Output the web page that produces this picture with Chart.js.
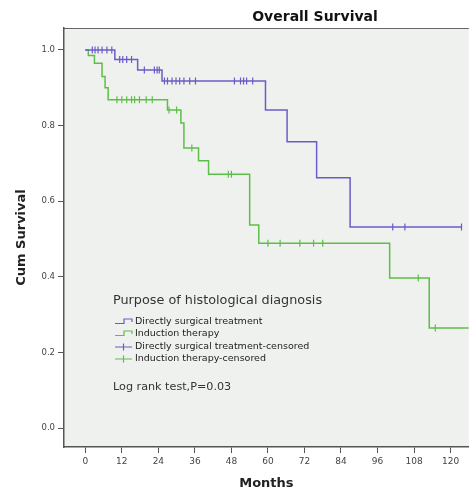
<!DOCTYPE html>
<html><head><meta charset="utf-8">
<script src="https://cdn.jsdelivr.net/npm/chart.js@4.4.1/dist/chart.umd.min.js"></script>
<style>html,body{margin:0;padding:0;background:#fff;overflow:hidden}canvas{display:block}</style>
</head><body>
<canvas id="c" width="474" height="497"></canvas>
<script>
// ---- data ----
const chartTitle = "Overall Survival";
const xTitle = "Months";
const yTitle = "Cum Survival";
const xTicks = [0, 12, 24, 36, 48, 60, 72, 84, 96, 108, 120];
const yTicks = [0.0, 0.2, 0.4, 0.6, 0.8, 1.0];

const surgTime = [0, 9.7, 17.2, 25.2, 59.2, 66.3, 76, 87, 123.6];
const surgSurv = [1, 0.975, 0.947, 0.918, 0.841, 0.757, 0.662, 0.532, 0.532];

const indTime = [0, 1, 3, 5.5, 6.5, 7.5, 27, 31.4, 32.4, 37.2, 40.5, 54, 57, 100, 113, 126];
const indSurv = [1, 0.985, 0.965, 0.93, 0.9, 0.868, 0.841, 0.807, 0.741, 0.707, 0.671, 0.537, 0.489, 0.397, 0.265, 0.265];

const surgCensTime = [2.3, 3.2, 4.2, 5.5, 7.1, 8.7, 11.3, 12.3, 13.6, 15.2, 19.4, 22.7, 23.6, 24.3,
  26, 27, 28.5, 29.8, 31, 32.4, 34.3, 36.2, 49, 51, 52, 53, 55, 101, 105, 123.6];
const surgCensSurv = [1, 1, 1, 1, 1, 1, 0.975, 0.975, 0.975, 0.975, 0.947, 0.947, 0.947, 0.947,
  0.918, 0.918, 0.918, 0.918, 0.918, 0.918, 0.918, 0.918, 0.918, 0.918, 0.918, 0.918, 0.918, 0.532, 0.532, 0.532];

const indCensTime = [10.4, 12, 13.6, 15.2, 16.2, 17.8, 20, 22, 27.5, 30, 35, 47, 48, 60, 64, 70.5, 75, 78, 109.4, 115];
const indCensSurv = [0.868, 0.868, 0.868, 0.868, 0.868, 0.868, 0.868, 0.868, 0.841, 0.841, 0.741, 0.671, 0.671,
  0.489, 0.489, 0.489, 0.489, 0.489, 0.397, 0.265];

const legendTitle = "Purpose of histological diagnosis";
const legendLabels = ["Directly surgical treatment", "Induction therapy",
  "Directly surgical treatment-censored", "Induction therapy-censored"];
const testLabel = "Log rank test,P=0.03";

// ---- styles ----
const PURPLE = '#6a5cc6';
const GREEN = '#5dbf47';
const FONT = "'DejaVu Sans', sans-serif";

const pts = (xs, ys) => xs.map((x, i) => ({x, y: ys[i]}));

const bgPlugin = {
  id: 'bg',
  beforeDraw(chart) {
    const {ctx, chartArea: a} = chart;
    ctx.save();
    ctx.fillStyle = '#eff1ef';
    ctx.fillRect(a.left, a.top, a.right - a.left, a.bottom - a.top);
    ctx.strokeStyle = '#666';
    ctx.lineWidth = 1;
    ctx.beginPath();
    ctx.moveTo(a.left, a.top + 0.5);
    ctx.lineTo(a.right, a.top + 0.5);
    ctx.stroke();
    ctx.restore();
  }
};

const textPlugin = {
  id: 'texts',
  afterDraw(chart) {
    const {ctx} = chart;
    ctx.save();
    // chart title
    ctx.fillStyle = '#111';
    ctx.font = "bold 14px " + FONT;
    ctx.textAlign = 'center';
    ctx.textBaseline = 'middle';
    ctx.fillText(chartTitle, 315, 17);
    // legend
    ctx.textAlign = 'left';
    ctx.fillStyle = '#333';
    ctx.font = "12.8px " + FONT;
    ctx.fillText(legendTitle, 113, 301);
    const ys = [322, 334, 347, 359];
    const cols = [PURPLE, GREEN, PURPLE, GREEN];
    ctx.font = "9.5px " + FONT;
    ys.forEach((y, i) => {
      ctx.strokeStyle = cols[i];
      ctx.lineWidth = 1.2;
      ctx.beginPath();
      if (i < 2) {
        ctx.moveTo(115, y + 1.5); ctx.lineTo(124, y + 1.5);
        ctx.lineTo(124, y - 3); ctx.lineTo(132, y - 3); ctx.lineTo(132, y);
      } else {
        ctx.moveTo(115, y); ctx.lineTo(132, y);
        ctx.moveTo(123.5, y - 3.5); ctx.lineTo(123.5, y + 3.5);
      }
      ctx.stroke();
      ctx.fillStyle = '#222';
      ctx.fillText(legendLabels[i], 135, y);
    });
    ctx.font = "11.2px " + FONT;
    ctx.fillStyle = '#333';
    ctx.fillText(testLabel, 113, 387);
    ctx.restore();
  }
};

new Chart(document.getElementById('c'), {
  type: 'line',
  data: {
    datasets: [
      {data: pts(surgTime, surgSurv), stepped: 'before', borderColor: PURPLE, borderWidth: 1.5, pointRadius: 0, fill: false},
      {data: pts(indTime, indSurv), stepped: 'before', borderColor: GREEN, borderWidth: 1.5, pointRadius: 0, fill: false},
      {data: pts(surgCensTime, surgCensSurv), showLine: false, pointStyle: 'line', rotation: 90, pointRadius: 3.5,
        pointBorderColor: PURPLE, pointBorderWidth: 1.2, borderColor: PURPLE},
      {data: pts(indCensTime, indCensSurv), showLine: false, pointStyle: 'line', rotation: 90, pointRadius: 3.5,
        pointBorderColor: GREEN, pointBorderWidth: 1.2, borderColor: GREEN}
    ]
  },
  options: {
    responsive: false,
    animation: false,
    devicePixelRatio: 1,
    layout: {padding: {left: 8, top: 28, right: 0, bottom: 0}},
    plugins: {legend: {display: false}, tooltip: {enabled: false}, title: {display: false}},
    scales: {
      x: {
        type: 'linear', min: -7, max: 126,
        afterBuildTicks: s => { s.ticks = xTicks.map(v => ({value: v})); },
        afterFit: s => { s.height = 50; },
        border: {display: true, color: '#555', width: 1.5},
        grid: {drawOnChartArea: false, drawTicks: true, tickLength: 6, color: '#555'},
        ticks: {font: {family: FONT, size: 9}, color: '#444', padding: 3, maxRotation: 0},
        title: {display: true, text: xTitle, font: {family: FONT, size: 13, weight: 'bold'}, color: '#222', padding: {top: 4, bottom: 6}}
      },
      y: {
        min: -0.05, max: 1.058,
        afterBuildTicks: s => { s.ticks = yTicks.map(v => ({value: v})); },
        afterFit: s => { s.width = 56; },
        border: {display: true, color: '#555', width: 1.5},
        grid: {drawOnChartArea: false, drawTicks: true, tickLength: 6, color: '#555'},
        ticks: {font: {family: FONT, size: 8.5}, color: '#444', padding: 3, callback: v => Number(v).toFixed(1)},
        title: {display: true, text: yTitle, font: {family: FONT, size: 13, weight: 'bold'}, color: '#222', padding: {top: 6, bottom: 4}}
      }
    }
  },
  plugins: [bgPlugin, textPlugin]
});
</script>
</body></html>
